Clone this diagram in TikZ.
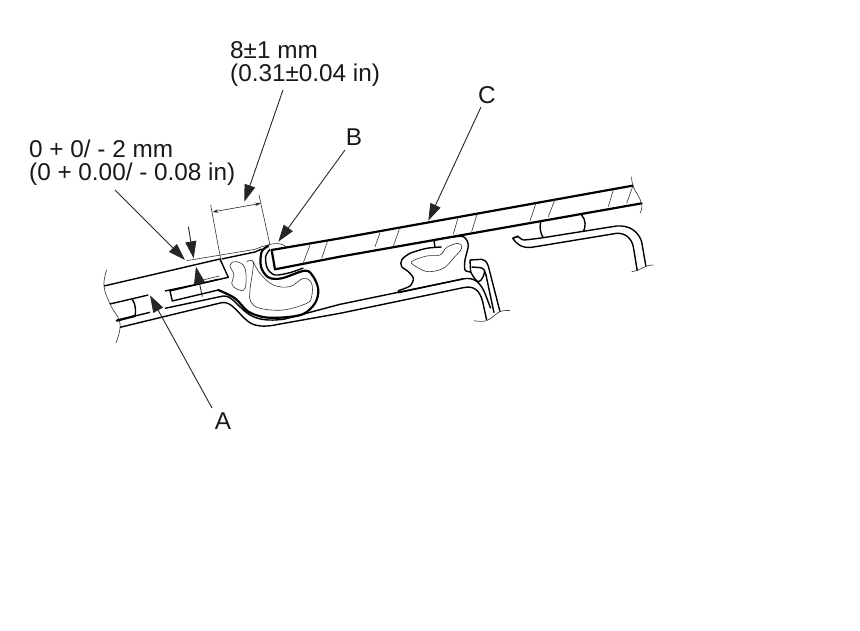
\documentclass[tikz,border=0pt]{standalone}
\usepackage{fontspec}
\setmainfont{Liberation Sans}
\usetikzlibrary{arrows.meta}
\tikzset{
  thin line/.style={line width=0.6pt,black!80,line join=round},
  mid line/.style={line width=1.4pt,black,line join=round},
  thick line/.style={line width=2.2pt,black,line join=round,line cap=round},
  leader/.style={line width=0.9pt,black!85,-{Triangle[length=17pt,width=11pt]}},
  dimtip/.style={line width=0.6pt,black!85,{Stealth[length=6pt,width=3.5pt]}-{Stealth[length=6pt,width=3.5pt]}},
  lbl/.style={font=\fontsize{24.3}{23}\selectfont,align=left,inner sep=0pt,text=black!90},
  zoomA/.style={shift={(90,190)},x=.3333pt,y=-.3333pt},
  zoomB/.style={shift={(330,170)},x=.3333pt,y=-.3333pt}
}
\begin{document}
\begin{tikzpicture}[x=1pt,y=-1pt]
\useasboundingbox[fill=white] (0,0) rectangle (860,630);
% labels
\node[lbl,anchor=north west] (dimb) at (230,41) {8±1 mm\\(0.31±0.04 in)};
\node[lbl,anchor=north west] (dima) at (29,140) {0 + 0/ - 2 mm\\(0 + 0.00/ - 0.08 in)};
\node[lbl] (lc) at (487,95) {C};
\node[lbl] (lb) at (354,137) {B};
\node[lbl] (la) at (223,421) {A};
% left part
\begin{scope}[zoomA]
 % glass A
 \draw[mid line] (42,288) -- (390,207) -- (415,262) -- (335,280);
 \draw[mid line] (60,342) -- (175,315);
 \draw[mid line] (225,303) -- (335,280);
 \draw[thin line] (335,271) -- (388,258);
 \draw[thin line] plot[smooth,tension=.7] coordinates {(50,240) (42,288) (60,342) (90,400) (78,458)};
 % spacer
 \draw[mid line] (240,303) -- (247,333) -- (385,300);
 \draw[mid line] (240,303) -- (385,268);
 \draw[mid line] (127,328) .. controls (138,345) and (138,365) .. (135,378);
 % panel lines
 \draw[thick line] (80,392) -- (135,378);
 \draw[mid line] (135,378) -- (180,367);
 \draw[mid line] (225,355) -- (400,318) .. controls (425,316) and (445,350) .. (470,368) .. controls (495,388) and (530,395) .. (585,387) -- (750,343);
 \draw[mid line] (90,412) -- (395,338) .. controls (425,332) and (445,372) .. (475,395) .. controls (495,410) and (525,412) .. (565,403) -- (750,370);
 % molding B outer
 \draw[thick line] plot[smooth,tension=.55] coordinates {(535,168) (515,185) (513,230) (535,262) (575,265) (645,242) (670,260) (685,300) (675,340) (640,372) (585,382) (525,382) (475,365) (435,325) (385,300)};
 \draw[mid line] plot[smooth,tension=.5] coordinates {(540,178) (527,200) (532,235) (555,255) (600,248) (640,234)};
 % lip and reference line
 \draw[thin line] (520,170) .. controls (540,160) and (575,155) .. (590,172);
 \draw[thin line] (290,212) -- (495,178) -- (520,168);
 \draw[mid line] (395,207) -- (495,186) -- (515,177);
 % seal outline
 \draw[thin line] plot[smooth,tension=.6] coordinates {(470,215) (490,218) (480,300) (482,335) (510,355) (580,360) (650,340) (665,320) (665,280) (640,265) (600,290) (550,285) (510,250) (490,215)};
 \draw[thin line] plot[smooth cycle,tension=.7] coordinates {(420,225) (440,215) (465,235) (465,295) (440,297) (425,280) (432,255)};
 % glass C left end
 \draw[thick line] (750,145) -- (545,180) -- (555,238) -- (750,200);
 % hatches near end
 \draw[thin line] (660,165) -- (640,218) (712,155) -- (695,205);
 % dimension helpers
 \draw[thin line] (362,45) -- (392,207);
 \draw[thin line] (507,15) -- (540,165);
 \coordinate (d1) at (367,66);
 \coordinate (d2) at (513,40);
 \draw[dimtip] (d1) -- (d2);
 \coordinate (t1) at (295,110);
 \coordinate (t2) at (311,205);
 \coordinate (u1) at (337,320);
 \coordinate (u2) at (318,230);
 \coordinate (aT) at (285,210);
 \coordinate (bT) at (565,155);
 \coordinate (dT) at (463,35);
 \coordinate (aA) at (180,316);
 \draw[leader] (t1) -- (t2);
 \draw[leader] (u1) -- (u2);
\end{scope}
% right part
\begin{scope}[zoomB]
 % glass C
 \draw[thick line] (30,205) -- (908,47);
 \draw[thick line] (30,260) -- (935,100);
 \draw[thin line] plot[smooth,tension=.7] coordinates {(905,20) (910,50) (935,100) (930,130)};
 \foreach \a/\b/\c/\d in {135/230/150/188, 190/228/208/178, 370/192/385/140, 425/185/442/130, 600/152/618/100, 655/140/675/88, 835/110/850/60, 890/100/908/50}
   \draw[thin line] (\a,\b) -- (\c,\d);
 \coordinate (cT) at (295,152);
 % centre seal
 \draw[mid line] plot[smooth,tension=.5] coordinates {(335,231) (290,235) (240,250) (215,270) (215,290) (235,305) (250,325) (240,348) (205,362)};
 \draw[mid line] (205,362) -- (205,368) -- (398,327);
 \draw[mid line] plot[smooth,tension=.5] coordinates {(312,210) (360,202) (400,200) (415,225) (405,270) (405,300) (422,306)};
 \draw[mid line] (312,210) -- (315,232);
 \draw[thin line] plot[smooth cycle,tension=.6] coordinates {(245,275) (290,258) (330,255) (350,232) (385,220) (395,235) (370,265) (340,295) (295,305) (262,292)};
 % flange
 \draw[mid line] (422,306) -- (420,270) -- (455,268) .. controls (470,270) and (475,285) .. (478,300) -- (510,425);
 \draw[mid line] (425,291) -- (452,293) .. controls (462,295) and (466,305) .. (468,315) -- (492,428);
 \draw[mid line] (422,306) .. controls (430,320) and (438,335) .. (447,335) .. controls (457,330) and (463,315) .. (464,302);
 % inner panel
 \draw[mid line] (30,403) -- (398,327) .. controls (430,320) and (450,335) .. (465,370) -- (482,415);
 \draw[mid line] (30,430) -- (400,353) .. controls (435,345) and (450,365) .. (458,395) -- (470,450);
 \draw[thin line] plot[smooth,tension=.7] coordinates {(432,452) (470,452) (510,425) (540,422)};
 % right clip
 \draw[mid line] plot[smooth,tension=.4] coordinates {(548,205) (565,200) (580,210) (640,203)};
 \draw[mid line] (640,203) -- (860,168) .. controls (900,165) and (925,185) .. (935,215) -- (948,290);
 \draw[mid line] (548,205) .. controls (560,222) and (575,235) .. (605,232) -- (860,190) .. controls (885,188) and (905,205) .. (910,230) -- (922,303);
 \draw[mid line] (548,205) -- (565,198);
 \draw[mid line] (632,155) .. controls (628,175) and (632,192) .. (640,203);
 \draw[mid line] (755,135) .. controls (768,150) and (768,170) .. (760,185);
 \draw[thin line] plot[smooth,tension=.7] coordinates {(905,305) (925,300) (950,288) (970,285)};
\end{scope}
% leaders
\coordinate (s1) at (115,190);
\coordinate (s2) at (345,150);
\coordinate (s3) at (481,107);
\coordinate (s4) at (283,90);
\coordinate (s5) at (212,408);
\draw[leader] (s1) -- (aT);
\draw[leader] (s2) -- (bT);
\draw[leader] (s3) -- (cT);
\draw[leader] (s4) -- (dT);
\draw[leader] (s5) -- (aA);
\end{tikzpicture}
\end{document}
